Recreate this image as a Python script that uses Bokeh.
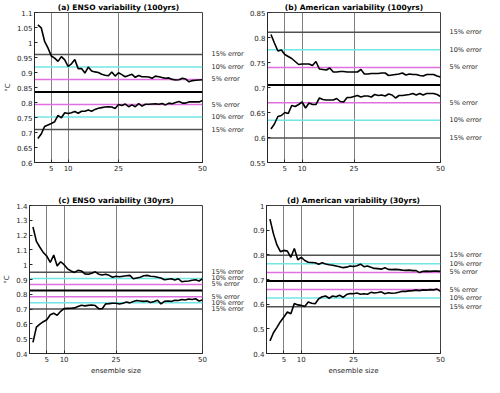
from bokeh.plotting import figure
from bokeh.layouts import row, column
from bokeh.models import FixedTicker, Span, CustomJSTickFormatter, Range1d, LinearAxis
from bokeh.embed import file_html
from bokeh.resources import INLINE

ens = list(range(1, 51))

enso100_hi = [1.059, 1.049, 1.004, 0.982, 0.955, 0.948, 0.937, 0.953, 0.942, 0.920,
              0.929, 0.943, 0.913, 0.913, 0.898, 0.918, 0.905, 0.902, 0.900, 0.894,
              0.891, 0.889, 0.902, 0.888, 0.899, 0.893, 0.886, 0.890, 0.894, 0.884,
              0.890, 0.886, 0.886, 0.885, 0.881, 0.888, 0.886, 0.883, 0.881, 0.882,
              0.877, 0.875, 0.876, 0.881, 0.878, 0.869, 0.873, 0.874, 0.875, 0.876]
enso100_lo = [0.680, 0.695, 0.720, 0.725, 0.730, 0.736, 0.757, 0.749, 0.766, 0.763,
              0.766, 0.770, 0.764, 0.771, 0.771, 0.775, 0.771, 0.777, 0.781, 0.783,
              0.785, 0.786, 0.785, 0.780, 0.793, 0.790, 0.795, 0.786, 0.792, 0.786,
              0.796, 0.788, 0.794, 0.794, 0.795, 0.796, 0.794, 0.797, 0.792, 0.798,
              0.796, 0.800, 0.803, 0.798, 0.798, 0.802, 0.802, 0.802, 0.802, 0.807]

amer100_hi = [0.806, 0.789, 0.773, 0.775, 0.766, 0.762, 0.758, 0.752, 0.746, 0.747,
              0.747, 0.747, 0.744, 0.752, 0.737, 0.736, 0.735, 0.739, 0.731, 0.731,
              0.732, 0.732, 0.731, 0.731, 0.731, 0.731, 0.736, 0.727, 0.727, 0.728,
              0.728, 0.728, 0.729, 0.729, 0.724, 0.725, 0.726, 0.727, 0.729, 0.725,
              0.727, 0.726, 0.726, 0.724, 0.723, 0.726, 0.726, 0.726, 0.723, 0.721]
amer100_lo = [0.617, 0.627, 0.642, 0.644, 0.650, 0.648, 0.664, 0.662, 0.666, 0.671,
              0.659, 0.669, 0.666, 0.666, 0.679, 0.676, 0.675, 0.675, 0.675, 0.678,
              0.672, 0.671, 0.680, 0.680, 0.682, 0.684, 0.681, 0.683, 0.683, 0.681,
              0.686, 0.684, 0.685, 0.683, 0.687, 0.685, 0.679, 0.684, 0.684, 0.685,
              0.686, 0.688, 0.685, 0.688, 0.685, 0.688, 0.688, 0.688, 0.686, 0.682]

enso30_hi = [1.255, 1.158, 1.118, 1.082, 1.058, 1.015, 1.065, 0.992, 1.020, 1.000,
             0.972, 0.958, 0.948, 0.962, 0.958, 0.938, 0.935, 0.942, 0.952, 0.936,
             0.930, 0.936, 0.928, 0.915, 0.922, 0.918, 0.922, 0.925, 0.928, 0.905,
             0.910, 0.915, 0.925, 0.928, 0.922, 0.920, 0.915, 0.910, 0.898, 0.902,
             0.905, 0.896, 0.905, 0.885, 0.888, 0.890, 0.895, 0.898, 0.890, 0.905]
enso30_lo = [0.475, 0.578, 0.598, 0.615, 0.628, 0.662, 0.672, 0.658, 0.685, 0.703,
             0.705, 0.706, 0.708, 0.718, 0.726, 0.722, 0.725, 0.728, 0.724, 0.703,
             0.702, 0.735, 0.737, 0.740, 0.740, 0.735, 0.740, 0.748, 0.742, 0.752,
             0.758, 0.755, 0.752, 0.755, 0.745, 0.752, 0.760, 0.735, 0.752, 0.755,
             0.752, 0.760, 0.758, 0.765, 0.762, 0.768, 0.765, 0.770, 0.755, 0.762]

amer30_hi = [0.945, 0.885, 0.840, 0.813, 0.818, 0.815, 0.790, 0.826, 0.780, 0.790,
             0.777, 0.770, 0.769, 0.768, 0.762, 0.768, 0.763, 0.760, 0.758, 0.755,
             0.752, 0.748, 0.750, 0.755, 0.753, 0.756, 0.762, 0.752, 0.755, 0.750,
             0.745, 0.744, 0.742, 0.748, 0.741, 0.740, 0.741, 0.740, 0.738, 0.737,
             0.738, 0.736, 0.736, 0.728, 0.733, 0.734, 0.733, 0.734, 0.734, 0.733]
amer30_lo = [0.451, 0.484, 0.506, 0.529, 0.548, 0.568, 0.561, 0.603, 0.597, 0.595,
             0.591, 0.609, 0.604, 0.602, 0.622, 0.630, 0.633, 0.624, 0.633, 0.630,
             0.636, 0.628, 0.639, 0.643, 0.642, 0.645, 0.640, 0.642, 0.640, 0.648,
             0.645, 0.647, 0.650, 0.642, 0.646, 0.644, 0.645, 0.648, 0.652, 0.652,
             0.654, 0.655, 0.657, 0.655, 0.658, 0.657, 0.659, 0.658, 0.661, 0.652]

titles = ["(a) ENSO variability (100yrs)", "(b) American variability (100yrs)",
          "(c) ENSO variability (30yrs)", "(d) American variability (30yrs)"]
means = [0.835, 0.705, 0.825, 0.694]
error_pct = [15, 10, 5]
x_ticks = [5, 10, 25, 50]
y_ticks_a = [0.6, 0.65, 0.7, 0.75, 0.8, 0.85, 0.9, 0.95, 1.0, 1.05, 1.1]
y_ticks_b = [0.55, 0.6, 0.65, 0.7, 0.75, 0.8, 0.85]
y_ticks_c = [0.4, 0.5, 0.6, 0.7, 0.8, 0.9, 1.0, 1.1, 1.2, 1.3, 1.4]
y_ticks_d = [0.4, 0.5, 0.6, 0.7, 0.8, 0.9, 1.0]

FONT = "DejaVu Sans"
TXT = "#262626"
err_colors = {15: "#505050", 10: "#70e6e6", 5: "#e070e0"}


def panel(title, hi, lo, mean, yticks, width, height, bl, br, bt, bb, ylabel, xlabel):
    p = figure(width=width, height=height, output_backend="svg", toolbar_location=None,
               x_range=Range1d(0, 50), y_range=Range1d(yticks[0], yticks[-1]),
               min_border_left=bl, min_border_right=br, min_border_top=bt,
               min_border_bottom=bb, title=title)
    p.title.text_font = FONT
    p.title.text_font_size = "7.5px"
    p.title.text_font_style = "bold"
    p.title.align = "center"
    p.title.standoff = 1
    p.title.text_color = "black"
    p.outline_line_color = "#404040"
    p.outline_line_width = 1
    p.background_fill_color = "white"
    p.border_fill_color = "white"

    xax = p.xaxis[0]
    left = p.yaxis[0]
    xax.ticker = FixedTicker(ticks=x_ticks)
    left.ticker = FixedTicker(ticks=yticks)
    left.formatter = CustomJSTickFormatter(code="return String(Math.round(tick*100)/100)")
    for ax in (xax, left):
        ax.major_label_text_font = FONT
        ax.major_label_text_font_size = "7px"
        ax.major_label_text_color = TXT
        ax.major_tick_in = 3
        ax.major_tick_out = 0
        ax.minor_tick_line_color = None
        ax.major_label_standoff = 2
        ax.axis_line_color = "#262626"
        ax.major_tick_line_color = "#262626"
        ax.axis_label_text_font = FONT
        ax.axis_label_text_font_size = "7px"
        ax.axis_label_text_font_style = "normal"
        ax.axis_label_text_color = TXT
        ax.axis_label_standoff = 2
    if ylabel:
        left.axis_label = ylabel
    if xlabel:
        xax.axis_label = xlabel

    levels = []
    for pc in error_pct:
        for sgn in (1, -1):
            levels.append(mean * (1 + sgn * pc / 100.0))
    right = LinearAxis(ticker=FixedTicker(ticks=levels),
                       formatter=CustomJSTickFormatter(
                           args=dict(m=mean),
                           code="return Math.round(Math.abs(tick/m - 1)*100) + '% error'"))
    right.axis_line_color = None
    right.major_tick_line_color = None
    right.minor_tick_line_color = None
    right.major_label_standoff = 3
    right.major_label_text_font = FONT
    right.major_label_text_font_size = "6.5px"
    right.major_label_text_color = TXT
    p.add_layout(right, "right")

    p.ygrid.grid_line_color = None
    p.xgrid.grid_line_color = "#808080"
    p.xgrid.grid_line_alpha = 1
    p.xgrid.grid_line_width = 1

    p.add_layout(Span(location=mean, dimension="width", line_color="black",
                      line_width=2, level="underlay"))
    for pc in error_pct:
        for sgn in (1, -1):
            lvl = mean * (1 + sgn * pc / 100.0)
            p.add_layout(Span(location=lvl, dimension="width", line_color=err_colors[pc],
                              line_width=1.5, level="underlay"))
    p.line(ens, hi, line_color="black", line_width=1.6)
    p.line(ens, lo, line_color="black", line_width=1.6)
    return p


pa = panel(titles[0], enso100_hi, enso100_lo, means[0], y_ticks_a, 246, 193, 27, 20, 12, 31, "°C", None)
pb = panel(titles[1], amer100_hi, amer100_lo, means[1], y_ticks_b, 238, 193, 20, 20, 12, 31, None, None)
pc_ = panel(titles[2], enso30_hi, enso30_lo, means[2], y_ticks_c, 246, 184, 27, 20, 12, 22, "°C", "ensemble size")
pd_ = panel(titles[3], amer30_hi, amer30_lo, means[3], y_ticks_d, 238, 184, 20, 20, 12, 22, None, "ensemble size")

layout = column(row(pa, pb), row(pc_, pd_))
open("out.html", "w").write(file_html(layout, INLINE))
